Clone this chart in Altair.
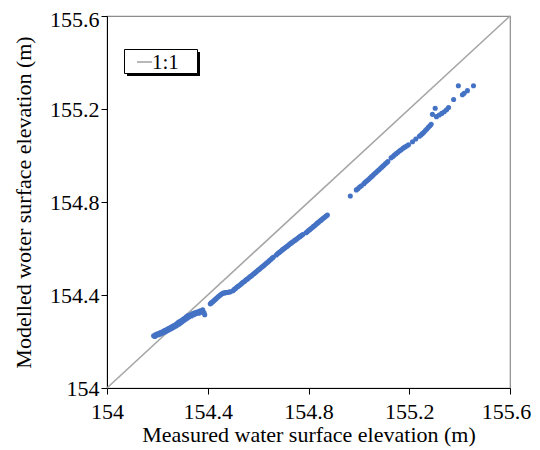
import altair as alt
import pandas as pd

# Measured (x) and modelled (y) water surface elevations
measured = [
    154.185, 154.19, 154.193, 154.197, 154.2, 154.205, 154.208, 154.212, 154.215, 154.218,
    154.222, 154.225, 154.228, 154.232, 154.235, 154.238, 154.242, 154.245, 154.248, 154.252,
    154.255, 154.258, 154.262, 154.265, 154.268, 154.272, 154.275, 154.278, 154.282, 154.285,
    154.288, 154.292, 154.295, 154.298, 154.302, 154.305, 154.308, 154.312, 154.315, 154.318,
    154.322, 154.325, 154.33, 154.335, 154.34, 154.345, 154.35, 154.355, 154.36, 154.365,
    154.37, 154.375, 154.38, 154.385, 154.388,
    154.41, 154.414, 154.418, 154.422, 154.426, 154.43, 154.435, 154.44, 154.445, 154.45,
    154.455, 154.46, 154.465, 154.47, 154.475, 154.48, 154.485,
    154.49, 154.5, 154.505, 154.51, 154.515, 154.52, 154.525, 154.53, 154.535, 154.54,
    154.545, 154.55, 154.555, 154.56, 154.565, 154.57, 154.575, 154.58, 154.585, 154.59,
    154.595, 154.6, 154.605, 154.61, 154.615, 154.62, 154.625, 154.63, 154.635, 154.64,
    154.645, 154.65, 154.655, 154.66,
    154.672, 154.677, 154.682, 154.687, 154.692, 154.697, 154.702, 154.707, 154.712, 154.717,
    154.722, 154.727, 154.732, 154.737, 154.742, 154.747, 154.752, 154.757, 154.762, 154.767,
    154.772, 154.777,
    154.79, 154.795, 154.8, 154.805, 154.81, 154.815, 154.82, 154.825, 154.83, 154.835,
    154.84, 154.845, 154.85, 154.855, 154.86, 154.865, 154.87, 154.875,
    154.966, 154.99, 154.996, 155.003, 155.01, 155.02, 155.026, 155.032, 155.038, 155.044,
    155.05, 155.056, 155.062, 155.068, 155.074, 155.08, 155.086, 155.092, 155.098, 155.104,
    155.11, 155.115,
    155.128, 155.135, 155.141, 155.148, 155.155, 155.162, 155.168, 155.175, 155.182, 155.19,
    155.197, 155.213, 155.226, 155.24, 155.246, 155.252, 155.258, 155.264, 155.27, 155.276,
    155.282, 155.287,
    155.292, 155.303, 155.308, 155.319, 155.329, 155.339, 155.348, 155.356,
    155.376, 155.395, 155.411, 155.418, 155.431, 155.455,
]
modelled = [
    154.225, 154.222, 154.23, 154.227, 154.233, 154.229, 154.236, 154.232, 154.24, 154.236,
    154.243, 154.239, 154.247, 154.242, 154.25, 154.246, 154.255, 154.25, 154.258, 154.254,
    154.262, 154.257, 154.266, 154.261, 154.27, 154.266, 154.275, 154.27, 154.282, 154.274,
    154.286, 154.28, 154.29, 154.285, 154.295, 154.29, 154.3, 154.296, 154.306, 154.3,
    154.312, 154.305, 154.315, 154.31, 154.32, 154.315, 154.324, 154.32, 154.328, 154.322,
    154.332, 154.326, 154.336, 154.325, 154.315,
    154.362, 154.366, 154.37, 154.373, 154.377, 154.381, 154.386, 154.391, 154.396, 154.4,
    154.404, 154.407, 154.409, 154.41, 154.411, 154.412, 154.413,
    154.414, 154.418, 154.424, 154.428, 154.433, 154.437, 154.441, 154.445, 154.45, 154.455,
    154.458, 154.463, 154.467, 154.471, 154.476, 154.48, 154.484, 154.489, 154.493, 154.498,
    154.502, 154.507, 154.511, 154.516, 154.52, 154.525, 154.529, 154.534, 154.539, 154.543,
    154.548, 154.553, 154.558, 154.562,
    154.572, 154.577, 154.581, 154.586, 154.59, 154.595, 154.599, 154.603, 154.607, 154.611,
    154.616, 154.62, 154.624, 154.628, 154.632, 154.636, 154.64, 154.644, 154.648, 154.652,
    154.656, 154.66,
    154.668, 154.672, 154.677, 154.681, 154.686, 154.69, 154.695, 154.699, 154.704, 154.709,
    154.713, 154.718, 154.722, 154.727, 154.731, 154.735, 154.74, 154.744,
    154.826, 154.852, 154.857, 154.864, 154.87, 154.879, 154.886, 154.891, 154.897, 154.903,
    154.909, 154.915, 154.921, 154.927, 154.933, 154.939, 154.945, 154.951, 154.957, 154.963,
    154.969, 154.974,
    154.99, 154.996, 155.002, 155.008, 155.014, 155.02, 155.025, 155.031, 155.036, 155.041,
    155.046, 155.059, 155.071, 155.083, 155.088, 155.094, 155.1, 155.107, 155.114, 155.121,
    155.128, 155.134,
    155.177, 155.203, 155.167, 155.174, 155.181, 155.188, 155.197, 155.206,
    155.241, 155.3, 155.261, 155.268, 155.279, 155.3,
]

line_x = [154.0, 155.6]
line_y = [154.0, 155.6]
tick_values = [154.0, 154.4, 154.8, 155.2, 155.6]
x_title = "Measured water surface elevation (m)"
y_title = "Modelled woter surface elevation (m)"
legend_label = "1:1"

FONT = "Liberation Serif"

pts = pd.DataFrame({"x": measured, "y": modelled})
diag = pd.DataFrame({"x": line_x, "y": line_y})

xs = alt.Scale(domain=[154, 155.6], nice=False, zero=False)
ys = alt.Scale(domain=[154, 155.6], nice=False, zero=False)

xaxis = alt.Axis(values=tick_values, format=".4~r", title=x_title, grid=False,
                 domainColor="black", tickColor="black", tickSize=6, labelPadding=7,
                 titlePadding=2, labelFlush=False,
                 labelOffset={"condition": {"test": "datum.value > 155.5", "value": -4},
                              "value": 0})
yaxis = alt.Axis(values=tick_values, format=".4~r", title=y_title, grid=False,
                 domainColor="black", tickColor="black", tickSize=6, labelPadding=2,
                 titlePadding=14, labelFlush=False,
                 labelOffset={"condition": {"test": "datum.value > 155.5", "value": 3},
                              "value": 0})

line = alt.Chart(diag).mark_line(color="#A6A6A6", strokeWidth=1.6).encode(
    x=alt.X("x:Q", scale=xs, axis=xaxis),
    y=alt.Y("y:Q", scale=ys, axis=yaxis),
)

points = alt.Chart(pts).mark_circle(size=26, color="#4472C4", opacity=1).encode(
    x=alt.X("x:Q", scale=xs),
    y=alt.Y("y:Q", scale=ys),
)

leg = pd.DataFrame({"label": [legend_label]})
shadow = alt.Chart(leg).mark_rect(color="black").encode(
    x=alt.value(20), x2=alt.value(93), y=alt.value(36), y2=alt.value(60))
box = alt.Chart(leg).mark_rect(fill="white", stroke="black", strokeWidth=1).encode(
    x=alt.value(17.5), x2=alt.value(90.5), y=alt.value(33.5), y2=alt.value(57.5))
leg_line = alt.Chart(leg).mark_rule(color="#A6A6A6", strokeWidth=1.6).encode(
    x=alt.value(30), x2=alt.value(45), y=alt.value(46))
leg_text = alt.Chart(leg).mark_text(font=FONT, fontSize=21, align="left",
                                    baseline="middle", color="black").encode(
    x=alt.value(45), y=alt.value(46.5), text="label:N")

chart = alt.layer(line, points, shadow, box, leg_line, leg_text).properties(
    width=403, height=372,
    autosize=alt.AutoSizeParams(type="none"),
    padding={"left": 99, "top": 8, "right": 22, "bottom": 62},
).configure_view(
    stroke="#8C8C8C", strokeWidth=1.2
).configure_axis(
    labelFont=FONT, titleFont=FONT, labelFontSize=22, titleFontSize=22,
    labelColor="black", titleColor="black", titleFontWeight="normal",
)

chart.save("out.html", embed_options={"renderer": "svg", "actions": False})
